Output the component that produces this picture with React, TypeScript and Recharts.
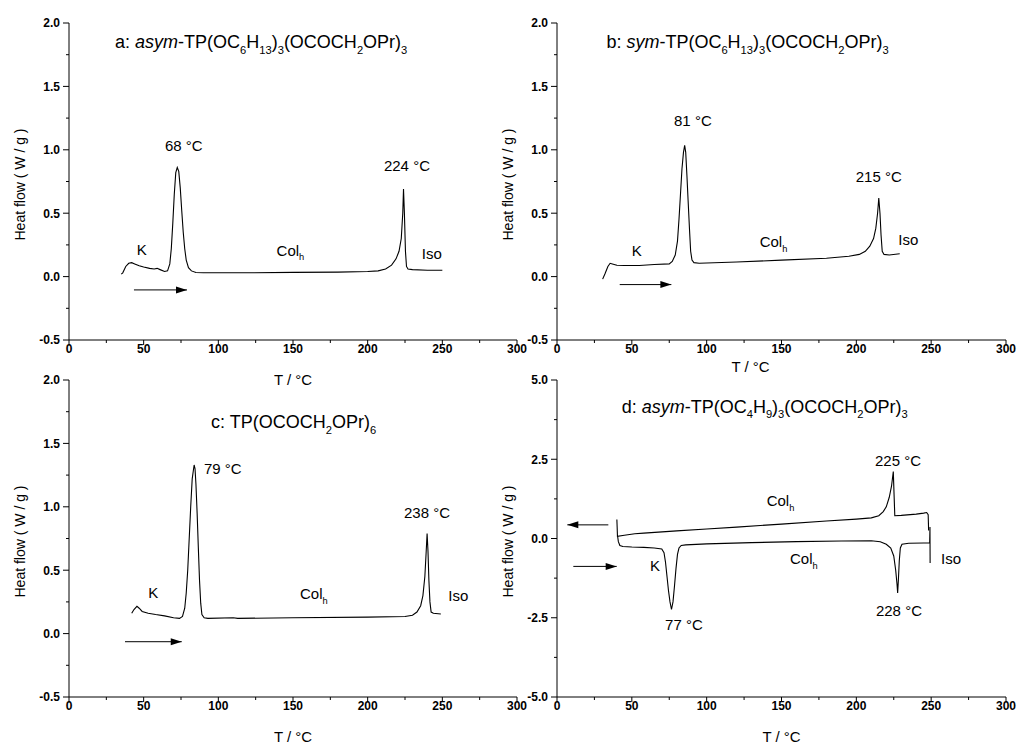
import React from 'react';
import { LineChart, Line, XAxis, YAxis, ReferenceDot } from 'recharts';

const FONT = 'Arial, "Liberation Sans", Helvetica, sans-serif';

// a: asym-TP(OC6H13)3(OCOCH2OPr)3, heating
const aTemp = [35, 36, 38, 40, 42, 44, 47, 50, 54, 57, 59, 61, 64, 66, 67.5, 68.5, 69.5, 70.5, 71.5, 72.5, 73.5, 74.5, 75.5, 76.5, 77.5, 78.5, 80, 82, 85, 90, 120, 150, 180, 200, 207, 212, 216, 219, 221, 222.5, 223.5, 224, 224.6, 225.3, 226, 227, 230, 240, 250];
const aFlow = [0.02, 0.03, 0.08, 0.105, 0.11, 0.1, 0.085, 0.075, 0.065, 0.06, 0.065, 0.055, 0.04, 0.045, 0.1, 0.22, 0.42, 0.65, 0.82, 0.86, 0.83, 0.7, 0.52, 0.35, 0.22, 0.13, 0.07, 0.045, 0.032, 0.03, 0.03, 0.033, 0.035, 0.04, 0.045, 0.06, 0.09, 0.14, 0.2, 0.3, 0.5, 0.69, 0.5, 0.2, 0.08, 0.06, 0.055, 0.05, 0.05];

// b: sym-TP(OC6H13)3(OCOCH2OPr)3, heating
const bTemp = [30.5, 32, 34, 35.5, 37, 40, 45, 55, 65, 75, 77, 79, 80.5, 81.5, 82.5, 83.5, 84.5, 85.3, 86, 86.8, 87.6, 88.5, 89.3, 90.2, 91.5, 95, 120, 150, 180, 195, 202, 206, 209, 211.5, 213, 214.2, 215, 215.8, 216.5, 217.3, 218.5, 222, 229];
const bFlow = [-0.02, 0.02, 0.08, 0.105, 0.1, 0.09, 0.087, 0.087, 0.095, 0.1, 0.12, 0.17, 0.28, 0.45, 0.65, 0.85, 0.98, 1.035, 0.98, 0.8, 0.6, 0.38, 0.2, 0.13, 0.11, 0.105, 0.115, 0.13, 0.145, 0.16, 0.175, 0.2, 0.24, 0.3, 0.38, 0.5, 0.62, 0.5, 0.33, 0.2, 0.175, 0.17, 0.18];

// c: TP(OCOCH2OPr)6, heating
const cTemp = [42, 43.5, 45.5, 47, 49, 53, 58, 64, 70, 74, 76, 77.5, 78.5, 79.5, 80.5, 81.5, 82.5, 83.2, 83.8, 84.4, 85, 85.8, 86.6, 87.4, 88.2, 89, 90.5, 93, 110, 113, 150, 200, 225, 230, 233, 235.5, 237, 238.3, 239.2, 239.8, 240.4, 241, 241.7, 242.5, 244, 249];
const cFlow = [0.16, 0.19, 0.215, 0.2, 0.175, 0.16, 0.15, 0.14, 0.125, 0.12, 0.135, 0.2, 0.32, 0.5, 0.75, 1.0, 1.22, 1.28, 1.33, 1.3, 1.18, 0.95, 0.68, 0.42, 0.24, 0.15, 0.125, 0.12, 0.125, 0.12, 0.125, 0.13, 0.135, 0.145, 0.17, 0.22, 0.3, 0.45, 0.65, 0.79, 0.65, 0.42, 0.25, 0.17, 0.16, 0.155];

// d: asym-TP(OC4H9)3(OCOCH2OPr)3, cooling (upper) and heating (lower)
const dCoolTemp = [40, 40.2, 40.4, 45, 52, 58, 80, 100, 120, 150, 180, 200, 210, 215, 218, 220, 222, 223.5, 224.7, 225.2, 225.7, 230, 240, 245, 247, 248, 248.3];
const dCoolFlow = [0.6, 0.35, 0.07, 0.1, 0.15, 0.17, 0.24, 0.3, 0.36, 0.455, 0.55, 0.61, 0.65, 0.72, 0.85, 1.0, 1.3, 1.65, 2.11, 1.4, 0.72, 0.73, 0.77, 0.8, 0.82, 0.75, 0.25];
const dHeatTemp = [40.5, 41, 42, 44, 50, 58, 65, 70, 71.5, 72.5, 73.5, 74.5, 75.5, 76.5, 77.5, 78.5, 79.5, 80.5, 81.5, 83, 86, 100, 130, 160, 190, 210, 216, 220, 223, 225, 226.3, 227.2, 227.6, 228.1, 228.7, 229.4, 230.5, 235, 245, 249, 249.2, 249.3];
const dHeatFlow = [0.07, -0.1, -0.22, -0.25, -0.27, -0.28, -0.3, -0.33, -0.45, -0.75, -1.2, -1.65, -2.0, -2.24, -2.0, -1.5, -0.95, -0.5, -0.3, -0.22, -0.2, -0.17, -0.13, -0.1, -0.08, -0.07, -0.1, -0.18, -0.3, -0.55, -1.0, -1.45, -1.72, -1.3, -0.7, -0.3, -0.18, -0.15, -0.14, -0.14, 0.36, -0.77];

const xTicks = [0, 25, 50, 75, 100, 125, 150, 175, 200, 225, 250, 275, 300];
const yTicksSmall = [-0.5, -0.25, 0, 0.25, 0.5, 0.75, 1, 1.25, 1.5, 1.75, 2];
const yTicksLarge = [-5, -3.75, -2.5, -1.25, 0, 1.25, 2.5, 3.75, 5];

const zip = (t: number[], v: number[]) => t.map((x, i) => ({ t: x, v: v[i] }));

type Seg = { s: string; sub?: boolean; it?: boolean };
const parse = (src: string): Seg[] => {
  const out: Seg[] = [];
  const re = /~([^~]*)~|_([^_]*)_|([^~_]+)/g;
  let m: RegExpExecArray | null;
  while ((m = re.exec(src))) {
    if (m[1] !== undefined) out.push({ s: m[1], sub: true });
    else if (m[2] !== undefined) out.push({ s: m[2], it: true });
    else out.push({ s: m[3] });
  }
  return out;
};

const RichText = ({ x, y, text, size }: { x: number; y: number; text: string; size: number }) => {
  const segs = parse(text);
  const drop = size * 0.32;
  let shift = 0;
  return (
    <text x={x} y={y} fontSize={size} fontFamily={FONT} fill="#000" style={{ whiteSpace: 'pre' }}>
      {segs.map((g, i) => {
        const target = g.sub ? drop : 0;
        const dy = target - shift;
        shift = target;
        return (
          <tspan key={i} dy={dy} fontSize={g.sub ? size * 0.62 : size} fontStyle={g.it ? 'italic' : 'normal'}>
            {g.s}
          </tspan>
        );
      })}
    </text>
  );
};

const XTick = (props: any) => {
  const { x, y, payload } = props;
  const v = payload.value;
  const major = v % 50 === 0;
  return (
    <g>
      <line x1={x} y1={y} x2={x} y2={y + (major ? 5 : 3)} stroke="#000" strokeWidth={1} />
      {major && (
        <text x={x} y={y + 12.5} textAnchor="middle" fontSize={12} fontWeight="bold" fontFamily={FONT} fill="#000">
          {v}
        </text>
      )}
    </g>
  );
};

const makeYTick = (step: number) => (props: any) => {
  const { x, y, payload } = props;
  const v = payload.value;
  const major = Math.abs(v / step - Math.round(v / step)) < 1e-6;
  return (
    <g>
      <line x1={x - (major ? 6 : 3)} y1={y} x2={x} y2={y} stroke="#000" strokeWidth={1} />
      {major && (
        <text x={x - 9} y={y + 4.3} textAnchor="end" fontSize={12} fontWeight="bold" fontFamily={FONT} fill="#000">
          {v.toFixed(1)}
        </text>
      )}
    </g>
  );
};

type Note = { t: number; v: number; text: string; size?: number };
type Arrow = { from: number; to: number; v: number };

const arrowHead = (pts: { t: number; v: number }[]) => (p: any) => {
  const { cx, cy, index } = p;
  if (index !== pts.length - 1) return <g key={`d${index}`} />;
  const dir = pts[1].t > pts[0].t ? 1 : -1;
  const pts2 = `${cx},${cy} ${cx - dir * 11},${cy - 3.5} ${cx - dir * 11},${cy + 3.5}`;
  return <polygon key={`d${index}`} points={pts2} fill="#000" />;
};

interface PanelProps {
  left: number;
  top: number;
  width: number;
  curves: { t: number; v: number }[][];
  yDomain: [number, number];
  yTicks: number[];
  yStep: number;
  notes: Note[];
  arrows: Arrow[];
  xTitleDx?: number;
  xTitleY?: number;
}

const Panel: React.FC<PanelProps> = ({ left, top, width, curves, yDomain, yTicks, yStep, notes, arrows, xTitleDx = 0, xTitleY = 45 }) => {
  const YTick = makeYTick(yStep);
  return (
    <div style={{ position: 'absolute', left, top }}>
      <LineChart width={width} height={390} margin={{ top: 23, right: 13, left: 29, bottom: 20 }}>
        <XAxis
          type="number"
          dataKey="t"
          domain={[0, 300]}
          ticks={xTicks}
          interval={0}
          tickSize={0}
          tickMargin={0}
          tickLine={false}
          tick={<XTick />}
          axisLine={{ stroke: '#000', strokeWidth: 1 }}
          height={30}
          label={{
            content: (lp: any) => {
              const vb = lp.viewBox;
              return (
                <text x={vb.x + vb.width / 2 + xTitleDx} y={vb.y + xTitleY} textAnchor="middle" fontSize={15} fontFamily={FONT} fill="#000">
                  T / °C
                </text>
              );
            },
          }}
        />
        <YAxis
          type="number"
          domain={yDomain}
          ticks={yTicks}
          interval={0}
          tickSize={0}
          tickMargin={0}
          tickLine={false}
          tick={<YTick />}
          axisLine={{ stroke: '#000', strokeWidth: 1 }}
          width={40}
          label={{
            content: (lp: any) => {
              const vb = lp.viewBox;
              const cx = vb.x - 9;
              const cy = vb.y + vb.height / 2 + 3;
              return (
                <text x={cx} y={cy} transform={`rotate(-90, ${cx}, ${cy})`} textAnchor="middle" dominantBaseline="central" fontSize={14} fontFamily={FONT} fill="#000">
                  Heat flow ( W / g )
                </text>
              );
            },
          }}
        />
        {curves.map((c, i) => (
          <Line key={`c${i}`} data={c} dataKey="v" type="linear" stroke="#000" strokeWidth={1.1} dot={false} activeDot={false} isAnimationActive={false} />
        ))}
        {arrows.map((a, i) => {
          const pts = [{ t: a.from, v: a.v }, { t: a.to, v: a.v }];
          return (
            <Line key={`a${i}`} data={pts} dataKey="v" type="linear" stroke="#000" strokeWidth={1} dot={arrowHead(pts)} activeDot={false} isAnimationActive={false} />
          );
        })}
        {notes.map((n, i) => (
          <ReferenceDot
            key={`n${i}`}
            x={n.t}
            y={n.v}
            r={0}
            ifOverflow="visible"
            shape={(p: any) => <RichText x={p.cx} y={p.cy} text={n.text} size={n.size ?? 15} />}
          />
        ))}
      </LineChart>
    </div>
  );
};

const notesA: Note[] = [
  { t: 30.8, v: 1.8, text: 'a: _asym_-TP(OC~6~H~13~)~3~(OCOCH~2~OPr)~3~', size: 18 },
  { t: 64.3, v: 0.99, text: '68 °C' },
  { t: 210.9, v: 0.83, text: '224 °C' },
  { t: 45.3, v: 0.174, text: 'K' },
  { t: 139, v: 0.166, text: 'Col~h~' },
  { t: 236.2, v: 0.14, text: 'Iso' },
];
const notesB: Note[] = [
  { t: 33, v: 1.8, text: 'b: _sym_-TP(OC~6~H~13~)~3~(OCOCH~2~OPr)~3~', size: 18 },
  { t: 78.2, v: 1.19, text: '81 °C' },
  { t: 199.6, v: 0.745, text: '215 °C' },
  { t: 49.9, v: 0.166, text: 'K' },
  { t: 135.4, v: 0.23, text: 'Col~h~' },
  { t: 228, v: 0.253, text: 'Iso' },
];
const notesC: Note[] = [
  { t: 95.1, v: 1.62, text: 'c: TP(OCOCH~2~OPr)~6~', size: 18 },
  { t: 90.4, v: 1.26, text: '79 °C' },
  { t: 224.3, v: 0.91, text: '238 °C' },
  { t: 53.1, v: 0.277, text: 'K' },
  { t: 154.7, v: 0.27, text: 'Col~h~' },
  { t: 254, v: 0.256, text: 'Iso' },
];
const notesD: Note[] = [
  { t: 43.2, v: 3.97, text: 'd: _asym_-TP(OC~4~H~9~)~3~(OCOCH~2~OPr)~3~', size: 18 },
  { t: 212.5, v: 2.29, text: '225 °C' },
  { t: 140.1, v: 1.03, text: 'Col~h~' },
  { t: 155.7, v: -0.82, text: 'Col~h~' },
  { t: 62.1, v: -1.03, text: 'K' },
  { t: 256.6, v: -0.79, text: 'Iso' },
  { t: 213.1, v: -2.43, text: '228 °C' },
  { t: 72.2, v: -2.89, text: '77 °C' },
];

export default function App() {
  return (
    <div style={{ position: 'absolute', left: 0, top: 0, width: 1018, height: 751, background: '#fff', overflow: 'hidden' }}>
      <Panel
        left={0}
        top={0}
        width={530}
        curves={[zip(aTemp, aFlow)]}
        yDomain={[-0.5, 2]}
        yTicks={yTicksSmall}
        yStep={0.5}
        notes={notesA}
        arrows={[{ from: 43.5, to: 79, v: -0.105 }]}
      />
      <Panel
        left={488}
        top={0}
        width={531}
        curves={[zip(bTemp, bFlow)]}
        yDomain={[-0.5, 2]}
        yTicks={yTicksSmall}
        yStep={0.5}
        notes={notesB}
        arrows={[{ from: 41.9, to: 76.4, v: -0.063 }]}
        xTitleDx={-31}
        xTitleY={32}
      />
      <Panel
        left={0}
        top={357}
        width={530}
        curves={[zip(cTemp, cFlow)]}
        yDomain={[-0.5, 2]}
        yTicks={yTicksSmall}
        yStep={0.5}
        notes={notesC}
        arrows={[{ from: 37.5, to: 75.5, v: -0.064 }]}
      />
      <Panel
        left={488}
        top={357}
        width={531}
        curves={[zip(dCoolTemp, dCoolFlow), zip(dHeatTemp, dHeatFlow)]}
        yDomain={[-5, 5]}
        yTicks={yTicksLarge}
        yStep={2.5}
        notes={notesD}
        arrows={[
          { from: 34.3, to: 6.9, v: 0.43 },
          { from: 10.9, to: 39.9, v: -0.88 },
        ]}
      />
    </div>
  );
}
